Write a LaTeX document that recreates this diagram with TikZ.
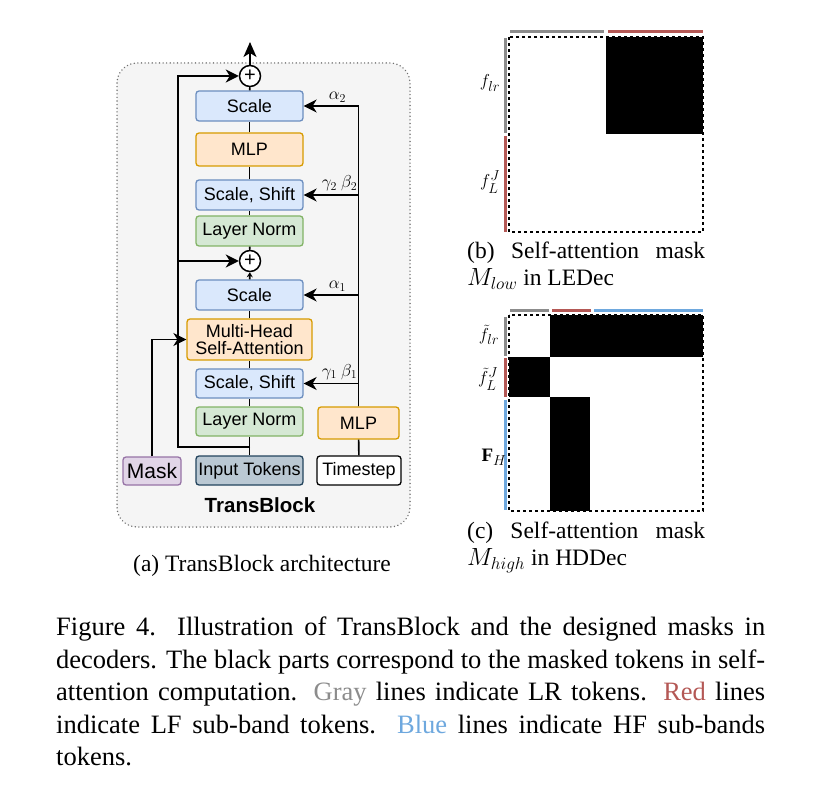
\documentclass[tikz,border=0pt]{standalone}
\usepackage{fontspec}
\setmainfont{Liberation Serif}
\setsansfont{Liberation Sans}
\usepackage{amsmath}
\usepackage{amssymb}
\usetikzlibrary{positioning, calc, arrows.meta}
\definecolor{panelfill}{RGB}{245, 245, 245}
\definecolor{panelline}{RGB}{110, 110, 110}
\definecolor{bluefill}{HTML}{DAE8FC}
\definecolor{blueline}{HTML}{6C8EBF}
\definecolor{orangefill}{HTML}{FFE6CC}
\definecolor{orangeline}{HTML}{D79B00}
\definecolor{greenfill}{HTML}{D5E8D4}
\definecolor{greenline}{HTML}{82B366}
\definecolor{purplefill}{HTML}{E1D5E7}
\definecolor{purpleline}{HTML}{9673A6}
\definecolor{tokenfill}{HTML}{BAC8D3}
\definecolor{tokenline}{HTML}{23445D}
\definecolor{lrgray}{RGB}{140, 140, 140}
\definecolor{lfred}{RGB}{180, 88, 85}
\definecolor{hfblue}{RGB}{110, 168, 222}

\begin{document}
\begin{tikzpicture}[x=1pt, y=-1pt,
    base/.style={rounded corners=3pt, line width=1.3pt, inner sep=0pt, minimum width=107pt, minimum height=30pt, align=center, font=\sffamily\fontsize{18}{19.5}\selectfont},
    bluebox/.style={base, draw=blueline, fill=bluefill},
    orangebox/.style={base, draw=orangeline, fill=orangefill},
    greenbox/.style={base, draw=greenline, fill=greenfill},
    conn/.style={line width=1.6pt},
    arr/.style={conn, -{Stealth[length=13pt, width=13pt, inset=4pt]}},
    plus/.style={circle, draw, line width=1.5pt, fill=white, minimum size=21pt, inner sep=0pt, font=\sffamily\fontsize{20}{20}\selectfont},
    coef/.style={font=\fontsize{17}{19}\selectfont, inner sep=1pt},
    bar/.style={line width=3pt},
    tok/.style={font=\fontsize{19}{22}\selectfont, inner sep=0pt}]
    \useasboundingbox (0, 0) rectangle (825, 802);

    % TransBlock panel
    \draw[panelline, fill=panelfill, line width=1.5pt, dash pattern=on 0.1pt off 3.5pt, line cap=round, rounded corners=20pt] (117, 63) rectangle (410, 527);

    % Second half of the block
    \node[plus] (plusB) at (250, 76) {+};
    \node[bluebox] (scaleB) at (249.5, 106) {Scale};
    \node[orangebox, minimum height=33pt] (mlpA) at (249.5, 149.5) {MLP};
    \node[bluebox] (ssB) at (249.5, 195) {Scale, Shift};
    \node[greenbox] (lnB) at (249.5, 231) {Layer Norm};
    \node[plus] (plusA) at (250, 261) {+};

    % First half of the block
    \node[bluebox] (scaleA) at (249.5, 295) {Scale};
    \node[orangebox, minimum width=125pt, minimum height=41pt] (mhsa) at (249.5, 339.5) {Multi-Head\\[-2pt]Self-Attention};
    \node[bluebox, minimum height=29pt] (ssA) at (249.5, 383.5) {Scale, Shift};
    \node[greenbox, minimum height=29pt] (lnA) at (249.5, 421.5) {Layer Norm};
    \node[orangebox, minimum width=81pt, minimum height=32pt] (mlpT) at (358.5, 423) {MLP};

    % Inputs
    \node[base, draw=purpleline, fill=purplefill, minimum width=58pt, minimum height=28pt, font=\sffamily\fontsize{21}{23}\selectfont] (mask) at (152, 471) {Mask};
    \node[base, draw=tokenline, fill=tokenfill, minimum height=29pt] (tokens) at (249.5, 470.5) {Input Tokens};
    \node[base, draw=black, fill=white, minimum width=84pt, minimum height=29pt] (timestep) at (359, 470.5) {Timestep};
    \node[font=\sffamily\bfseries\fontsize{20.5}{22}\selectfont] (title) at (260, 505) {TransBlock};

    % Main path
    \foreach \a/\b in {tokens/lnA, lnA/ssA, ssA/mhsa, mhsa/scaleA, plusA/lnB, lnB/ssB, ssB/mlpA, mlpA/scaleB, scaleB/plusB, timestep/mlpT}
        \draw[conn] (\a) -- (\b);
    \draw[conn, -{Stealth[length=5pt, width=6pt]}] (scaleA) -- (plusA);
    \coordinate (out) at (250, 42);
    \draw[arr, -{Stealth[length=15pt, width=13pt, inset=4pt]}] (plusB) -- (out);

    % Residual paths
    \coordinate (skip) at (250, 447);
    \coordinate (skipL) at (178, 447);
    \draw[arr] (skip) -- (skipL) |- (plusA);
    \draw[arr] (skipL) |- (plusB);
    \draw[arr] (mask) |- (mhsa);

    % Timestep modulation
    \draw[arr] (mlpT) |- (scaleB) node[coef, pos=0.5, above=2pt, xshift=-21pt] {$\alpha_2$};
    \draw[arr] (mlpT) |- (ssB) node[coef, pos=0.5, above=2pt, xshift=-19pt] {$\gamma_2\ \beta_2$};
    \draw[arr] (mlpT) |- (scaleA) node[coef, pos=0.5, above=2pt, xshift=-21pt] {$\alpha_1$};
    \draw[arr] (mlpT) |- (ssA) node[coef, pos=0.5, above=2pt, xshift=-19pt] {$\gamma_1\ \beta_1$};

    % Mask of LEDec
    \fill[black] (606, 37) rectangle (703, 134);
    \draw[line width=1.3pt, dashed] (509, 37) rectangle (703, 232);
    \draw[bar, lrgray] (510, 32) -- (604, 32);
    \draw[bar, lfred] (608, 32) -- (703, 32);
    \draw[bar, lrgray] (505, 38) -- (505, 133);
    \draw[bar, lfred] (505, 136) -- (505, 232);
    \node[tok] (lowlr) at (490, 83) {$f_{lr}$};
    \node[tok] (lowlf) at (490, 182) {$f_{L}^{J}$};

    % Mask of HDDec
    \fill[black] (550, 315) rectangle (703, 357);
    \fill[black] (509, 357) rectangle (550, 397);
    \fill[black] (550, 397) rectangle (590, 511);
    \draw[line width=1.3pt, dashed] (509, 315) rectangle (703, 511);
    \draw[bar, lrgray] (510, 311) -- (549, 311);
    \draw[bar, lfred] (552, 311) -- (591, 311);
    \draw[bar, hfblue] (594, 311) -- (703, 311);
    \draw[bar, lrgray] (505, 317) -- (505, 356);
    \draw[bar, lfred] (505, 358) -- (505, 397);
    \draw[bar, hfblue] (505, 400) -- (505, 510);
    \node[tok] (highlr) at (489, 335) {$\tilde{f}_{lr}$};
    \node[tok] (highlf) at (488, 379) {$\tilde{f}_{L}^{J}$};
    \node[tok] (highhf) at (494, 457) {$\mathbf{F}_{H}$};

    % Sub-captions
    \node[anchor=base, font=\fontsize{23.5}{27}\selectfont] (capa) at (262, 571) {(a) TransBlock architecture};
    \node[anchor=north west, inner sep=0pt, text width=238pt, align=justify, font=\fontsize{23.5}{27}\selectfont] (capb) at (467, 242) {(b) Self-attention mask $M_{low}$ in LEDec};
    \node[anchor=north west, inner sep=0pt, text width=238pt, align=justify, font=\fontsize{23.5}{27}\selectfont] (capc) at (467, 522) {(c) Self-attention mask $M_{high}$ in HDDec};

    % Figure caption
    \node[anchor=north west, inner sep=0pt, text width=709pt, align=justify, font=\fontsize{26.5}{32.5}\selectfont] (caption) at (56, 617) {Figure 4.\hskip 0.8em Illustration of TransBlock and the designed masks in\linebreak decoders. The black parts correspond to the masked tokens in self-\linebreak attention computation. {\color{lrgray}Gray} lines indicate LR tokens. {\color{lfred}Red} lines\linebreak indicate LF sub-band tokens. {\color{hfblue}Blue} lines indicate HF sub-bands\linebreak tokens.};
\end{tikzpicture}
\end{document}
